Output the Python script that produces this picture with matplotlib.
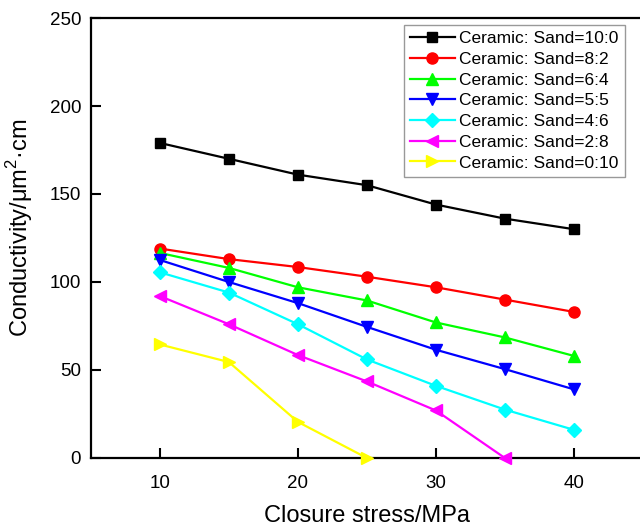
import matplotlib
matplotlib.use("Agg")
import matplotlib.pyplot as plt

plt.rcParams['font.family'] = ['Liberation Sans', 'DejaVu Sans']
plt.rcParams['mathtext.fontset'] = 'custom'
plt.rcParams['mathtext.rm'] = 'Liberation Sans'

stress = [10, 15, 20, 25, 30, 35, 40]
labels = ["Ceramic: Sand=10:0", "Ceramic: Sand=8:2", "Ceramic: Sand=6:4",
          "Ceramic: Sand=5:5", "Ceramic: Sand=4:6", "Ceramic: Sand=2:8",
          "Ceramic: Sand=0:10"]
s_10_0 = [179, 170, 161, 155, 144, 136, 130]
s_8_2 = [119, 113, 108.5, 103, 97, 90, 83]
s_6_4 = [116.5, 108, 97, 89.5, 77, 68.5, 58]
s_5_5 = [112.5, 100, 88, 74.5, 61.5, 50.5, 39]
s_4_6 = [105.5, 94, 76, 56, 41, 27.5, 16]
s_2_8 = [92, 76, 58.5, 43.5, 27, 0]
s_0_10 = [64.5, 54.5, 20.5, 0]
series = [s_10_0, s_8_2, s_6_4, s_5_5, s_4_6, s_2_8, s_0_10]
colors = ['#000000', '#ff0000', '#00ff00', '#0000ff', '#00ffff', '#ff00ff', '#ffff00']
markers = ['s', 'o', '^', 'v', 'D', '<', '>']
msizes = [7, 8, 8.5, 8.5, 7, 8.5, 8.5]

fig = plt.figure(figsize=(6.4, 5.28), dpi=100)
ax = fig.add_axes([0.142, 0.1326, 0.8625, 0.8333])

for ys, lab, c, m, ms in zip(series, labels, colors, markers, msizes):
    ax.plot(stress[:len(ys)], ys, color=c, marker=m, markersize=ms, lw=1.6,
            label=lab, clip_on=False, zorder=3)

ax.set_xlim(5, 45)
ax.set_ylim(0, 250)
ax.set_xticks([10, 20, 30, 40])
ax.set_yticks([0, 50, 100, 150, 200, 250])
ax.tick_params(direction='in', length=7, width=1.5, labelsize=13.5)
ax.tick_params(axis='x', pad=12)
ax.tick_params(axis='y', pad=7)
for sp in ax.spines.values():
    sp.set_linewidth(1.6)

ax.set_xlabel('Closure stress/MPa', fontsize=17, labelpad=9.5)
ax.set_ylabel(r'Conductivity/μm$^2$·cm', fontsize=17, labelpad=10)
ax.yaxis.set_label_coords(-0.102, 0.524)

leg = ax.legend(loc='upper right', bbox_to_anchor=(0.967, 0.984), fontsize=12.5,
                frameon=True, fancybox=False, edgecolor='#808080',
                labelspacing=0.32, handlelength=2.6, handletextpad=0.25,
                borderpad=0.35, borderaxespad=0)
leg.get_frame().set_linewidth(1.0)

fig.savefig('out.png', dpi=100)
